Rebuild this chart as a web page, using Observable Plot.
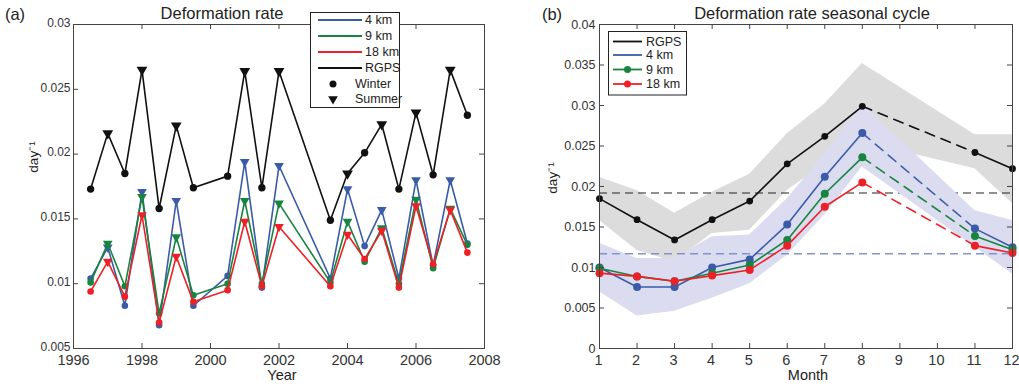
<!DOCTYPE html>
<html><head><meta charset="utf-8">
<script src="https://cdn.jsdelivr.net/npm/d3@7"></script>
<script src="https://cdn.jsdelivr.net/npm/@observablehq/plot@0.6"></script>
<style>
body{margin:0;background:#fff;}
#wrap{position:relative;width:1019px;height:386px;overflow:hidden;font-family:"Liberation Sans",Arial,sans-serif;}
#wrap > svg{position:absolute;top:0;}
</style></head><body><div id="wrap"></div>
<script>
// ---------- Panel (a): deformation rate time series ----------
const years  = [1996.5, 1997, 1997.5, 1998, 1998.5, 1999, 1999.5, 2000.5, 2001, 2001.5, 2002, 2003.5, 2004, 2004.5, 2005, 2005.5, 2006, 2006.5, 2007, 2007.5];
const season = ["Winter","Summer","Winter","Summer","Winter","Summer","Winter","Winter","Summer","Winter","Summer","Winter","Summer","Winter","Summer","Winter","Summer","Winter","Summer","Winter"];
const rgps   = [0.0173, 0.0216, 0.0185, 0.0265, 0.0158, 0.0222, 0.0174, 0.0183, 0.0264, 0.0174, 0.0264, 0.0149, 0.0185, 0.0201, 0.0223, 0.0173, 0.0232, 0.0184, 0.0265, 0.0230];
const km4    = [0.0104, 0.0128, 0.0083, 0.0171, 0.0068, 0.0164, 0.0083, 0.0106, 0.0194, 0.0097, 0.0191, 0.0104, 0.0173, 0.0129, 0.0157, 0.0104, 0.0180, 0.0114, 0.0180, 0.0131];
const km9    = [0.0101, 0.0131, 0.0098, 0.0167, 0.0077, 0.0136, 0.0091, 0.0100, 0.0164, 0.0100, 0.0162, 0.0101, 0.0148, 0.0117, 0.0143, 0.0100, 0.0165, 0.0112, 0.0158, 0.0130];
const km18   = [0.0094, 0.0117, 0.0090, 0.0153, 0.0070, 0.0121, 0.0086, 0.0095, 0.0148, 0.0098, 0.0144, 0.0098, 0.0138, 0.0119, 0.0141, 0.0097, 0.0160, 0.0115, 0.0157, 0.0124];
const yearTicks = [1996, 1998, 2000, 2002, 2004, 2006, 2008];
const rateTicksA = [0.005, 0.01, 0.015, 0.02, 0.025, 0.03];

// ---------- Panel (b): seasonal cycle ----------
const months  = [1, 2, 3, 4, 5, 6, 7, 8, 11, 12];
const rgpsM   = [0.0185, 0.0159, 0.0134, 0.0159, 0.0182, 0.0228, 0.0262, 0.0299, 0.0242, 0.0222];
const km4M    = [0.0100, 0.0076, 0.0076, 0.0100, 0.0110, 0.0153, 0.0212, 0.0266, 0.0148, 0.0125];
const km9M    = [0.0099, 0.0089, 0.0083, 0.0093, 0.0103, 0.0134, 0.0191, 0.0236, 0.0139, 0.0122];
const km18M   = [0.0093, 0.0089, 0.0083, 0.0090, 0.0097, 0.0127, 0.0175, 0.0205, 0.0127, 0.0118];
const rgpsHi  = [0.0211, 0.0195, 0.0167, 0.0193, 0.0215, 0.0265, 0.0302, 0.0352, 0.0264, 0.0264];
const rgpsLo  = [0.0158, 0.0121, 0.0107, 0.0142, 0.0146, 0.0195, 0.0228, 0.0255, 0.0222, 0.0179];
const modelHi = [0.0130, 0.0111, 0.0111, 0.0138, 0.0140, 0.0185, 0.0240, 0.0302, 0.0170, 0.0158];
const modelLo = [0.0070, 0.0040, 0.0046, 0.0062, 0.0080, 0.0115, 0.0165, 0.0224, 0.0125, 0.0092];
const rgpsMean  = 0.0192;
const modelMean = 0.0117;
const monthTicks = [1,2,3,4,5,6,7,8,9,10,11,12];
const rateTicksB = [0, 0.005, 0.01, 0.015, 0.02, 0.025, 0.03, 0.035, 0.04];

const C = {blue:"#3a5ca8", green:"#17843f", red:"#ec2027", black:"#111111", frame:"#444", tick:"#333",
           gray:"#dcdcdc", lav:"#dcdcf0", hblue:"#8393c9"};
const FONT = '"Liberation Sans", Arial, sans-serif';
const fmtRate = d => d === 0 ? "0" : String(+d.toFixed(3));

const triDown = {draw(ctx, size){ const s3 = Math.sqrt(3); const y = Math.sqrt(size/(s3*3));
  ctx.moveTo(0, 2*y); ctx.lineTo(-s3*y, -y); ctx.lineTo(s3*y, -y); ctx.closePath(); }};

function frameTicks(xt, yt, iw, ih){
  return [
    Plot.ruleX(xt, {x: d=>d, insetTop: ih-5, stroke: C.frame}),
    Plot.ruleX(xt, {x: d=>d, insetBottom: ih-5, stroke: C.frame}),
    Plot.ruleY(yt, {y: d=>d, insetRight: iw-5, stroke: C.frame}),
    Plot.ruleY(yt, {y: d=>d, insetLeft: iw-5, stroke: C.frame}),
    Plot.frame({stroke: C.frame})
  ];
}

// rows for panel (a)
const rowsA = years.map((y,i)=>({year:y, season:season[i], rgps:rgps[i], km4:km4[i], km9:km9[i], km18:km18[i]}));
const seriesA = [["rgps", C.black, 4.0], ["km4", C.blue, 3.6], ["km9", C.green, 3.6], ["km18", C.red, 3.6]];
const marksA = [];
for (const [k, col, r] of seriesA) {
  marksA.push(Plot.line(rowsA, {x:"year", y:k, stroke:col, strokeWidth:1.6}));
  marksA.push(Plot.dot(rowsA.filter(d=>d.season==="Winter"), {x:"year", y:k, r:r*0.92, fill:col, symbol:"circle"}));
  marksA.push(Plot.dot(rowsA.filter(d=>d.season==="Summer"), {x:"year", y:k, r:r, fill:col, symbol:triDown}));
}

const WA = 509, HA = 386, mlA = 73, mrA = 25, mt = 24, mb = 38;
const plotA = Plot.plot({
  width: WA, height: HA, marginLeft: mlA, marginRight: mrA, marginTop: mt, marginBottom: mb,
  style: {fontFamily: FONT, background: "transparent", overflow: "visible"},
  x: {domain: [1996, 2008]},
  y: {domain: [0.005, 0.03]},
  marks: [
    Plot.axisX({ticks: yearTicks, tickSize: 0, tickPadding: 6, tickFormat: d=>String(d), fontSize: 14.5, fill: C.tick, label: null}),
    Plot.axisY({ticks: rateTicksA, tickSize: 0, tickPadding: 3, tickFormat: fmtRate, fontSize: 12, dy: -1.5, fill: C.tick, label: null}),
    ...marksA,
    ...frameTicks(yearTicks, rateTicksA, WA-mlA-mrA, HA-mt-mb)
  ]
});

// rows for panel (b)
const rowsB = months.map((m,i)=>({month:m, rgps:rgpsM[i], km4:km4M[i], km9:km9M[i], km18:km18M[i],
  rHi:rgpsHi[i], rLo:rgpsLo[i], mHi:modelHi[i], mLo:modelLo[i]}));
const solid1 = rowsB.filter(d=>d.month<=8), solid2 = rowsB.filter(d=>d.month>=11), dash = rowsB.filter(d=>d.month===8||d.month===11);
const seriesB = [["rgps", C.black, 3.4], ["km4", C.blue, 4], ["km9", C.green, 4], ["km18", C.red, 4]];
const marksB = [];
for (const [k, col, r] of seriesB) {
  marksB.push(Plot.line(solid1, {x:"month", y:k, stroke:col, strokeWidth:1.6}));
  marksB.push(Plot.line(solid2, {x:"month", y:k, stroke:col, strokeWidth:1.6}));
  marksB.push(Plot.line(dash, {x:"month", y:k, stroke:col, strokeWidth:1.6, strokeDasharray:"10,7"}));
  marksB.push(Plot.dot(rowsB, {x:"month", y:k, r, fill:col}));
}
const WB = 510, mlB = 90, mrB = 7;
const plotB = Plot.plot({
  width: WB, height: HA, marginLeft: mlB, marginRight: mrB, marginTop: mt, marginBottom: mb,
  style: {fontFamily: FONT, background: "transparent", overflow: "visible"},
  x: {domain: [1, 12]},
  y: {domain: [0, 0.04]},
  marks: [
    Plot.areaY(rowsB, {x:"month", y1:"rLo", y2:"rHi", fill:C.gray}),
    Plot.ruleY([rgpsMean], {stroke:"#222", strokeWidth:1.1, strokeDasharray:"8,5"}),
    Plot.areaY(rowsB, {x:"month", y1:"mLo", y2:"mHi", fill:C.lav}),
    Plot.ruleY([modelMean], {stroke:C.hblue, strokeWidth:1.5, strokeDasharray:"8,5"}),
    Plot.axisX({ticks: monthTicks, tickSize: 0, tickPadding: 6, tickFormat: d=>String(d), fontSize: 14.5, dx: -1, fill: C.tick, label: null}),
    Plot.axisY({ticks: rateTicksB, tickSize: 0, tickPadding: 4, tickFormat: fmtRate, fontSize: 12.5, fill: C.tick, label: null}),
    ...marksB,
    ...frameTicks(monthTicks, rateTicksB, WB-mlB-mrB, HA-mt-mb)
  ]
});

const wrap = document.getElementById("wrap");
plotA.style.left = "0px"; plotB.style.left = WA + "px";
wrap.appendChild(plotA); wrap.appendChild(plotB);

// ---------- overlay: titles, labels, legends ----------
const ov = d3.select(wrap).append("svg").attr("width", 1019).attr("height", 386)
  .style("position","absolute").style("left","0px").style("top","0px")
  .style("font-family", FONT);
function txt(x, y, s, size, opts={}) {
  const t = ov.append("text").attr("x", x).attr("y", y).attr("font-size", size)
    .attr("fill", opts.fill || "#222").attr("text-anchor", opts.anchor || "middle").text(s);
  if (opts.rotate) t.attr("transform", `rotate(${opts.rotate},${x},${y})`);
  if (opts.baseline) t.attr("dominant-baseline", opts.baseline);
  return t;
}
txt(15, 20, "(a)", 16.5);
txt(552, 20, "(b)", 16.5);
txt(222, 19, "Deformation rate", 16.5);
txt(812, 19, "Deformation rate seasonal cycle", 16.5);
txt(282, 380, "Year", 14.5);
txt(808, 380, "Month", 14.5);
txt(33, 157, "day\u207B\u00B9", 13.5, {rotate:-90, baseline:"central"});
txt(552, 178, "day\u207B\u00B9", 13.5, {rotate:-90, baseline:"central"});

// legend (a)
const la = ov.append("g");
la.append("rect").attr("x",310.5).attr("y",12.5).attr("width",89).attr("height",95).attr("fill","#fff").attr("stroke","#222");
[["4 km", C.blue, 20], ["9 km", C.green, 36], ["18 km", C.red, 52], ["RGPS", C.black, 68]].forEach(([s,c,y])=>{
  la.append("line").attr("x1",318).attr("x2",362).attr("y1",y).attr("y2",y).attr("stroke",c).attr("stroke-width",1.8);
  la.append("text").attr("x",365).attr("y",y).attr("dominant-baseline","central").attr("font-size",12.5).attr("fill","#222").text(s);
});
la.append("circle").attr("cx",333).attr("cy",84).attr("r",3.5).attr("fill","#111");
la.append("text").attr("x",355).attr("y",84).attr("dominant-baseline","central").attr("font-size",12.5).attr("fill","#222").text("Winter");
la.append("path").attr("transform","translate(333,99)").attr("d", d3.symbol(triDown, 40)()).attr("fill","#111");
la.append("text").attr("x",355).attr("y",99).attr("dominant-baseline","central").attr("font-size",12.5).attr("fill","#222").text("Summer");

// legend (b)
const lb = ov.append("g");
lb.append("rect").attr("x",608.5).attr("y",31.5).attr("width",78).attr("height",63.5).attr("fill","#fff").attr("stroke","#222");
[["RGPS", C.black, 41.5, false], ["4 km", C.blue, 55, false], ["9 km", C.green, 69.5, true], ["18 km", C.red, 84, true]].forEach(([s,c,y,dot])=>{
  lb.append("line").attr("x1",613).attr("x2",642).attr("y1",y).attr("y2",y).attr("stroke",c).attr("stroke-width",1.8);
  if (dot) lb.append("circle").attr("cx",627.5).attr("cy",y).attr("r",3.5).attr("fill",c);
  lb.append("text").attr("x",646).attr("y",y).attr("dominant-baseline","central").attr("font-size",12.5).attr("fill","#222").text(s);
});
</script></body></html>
